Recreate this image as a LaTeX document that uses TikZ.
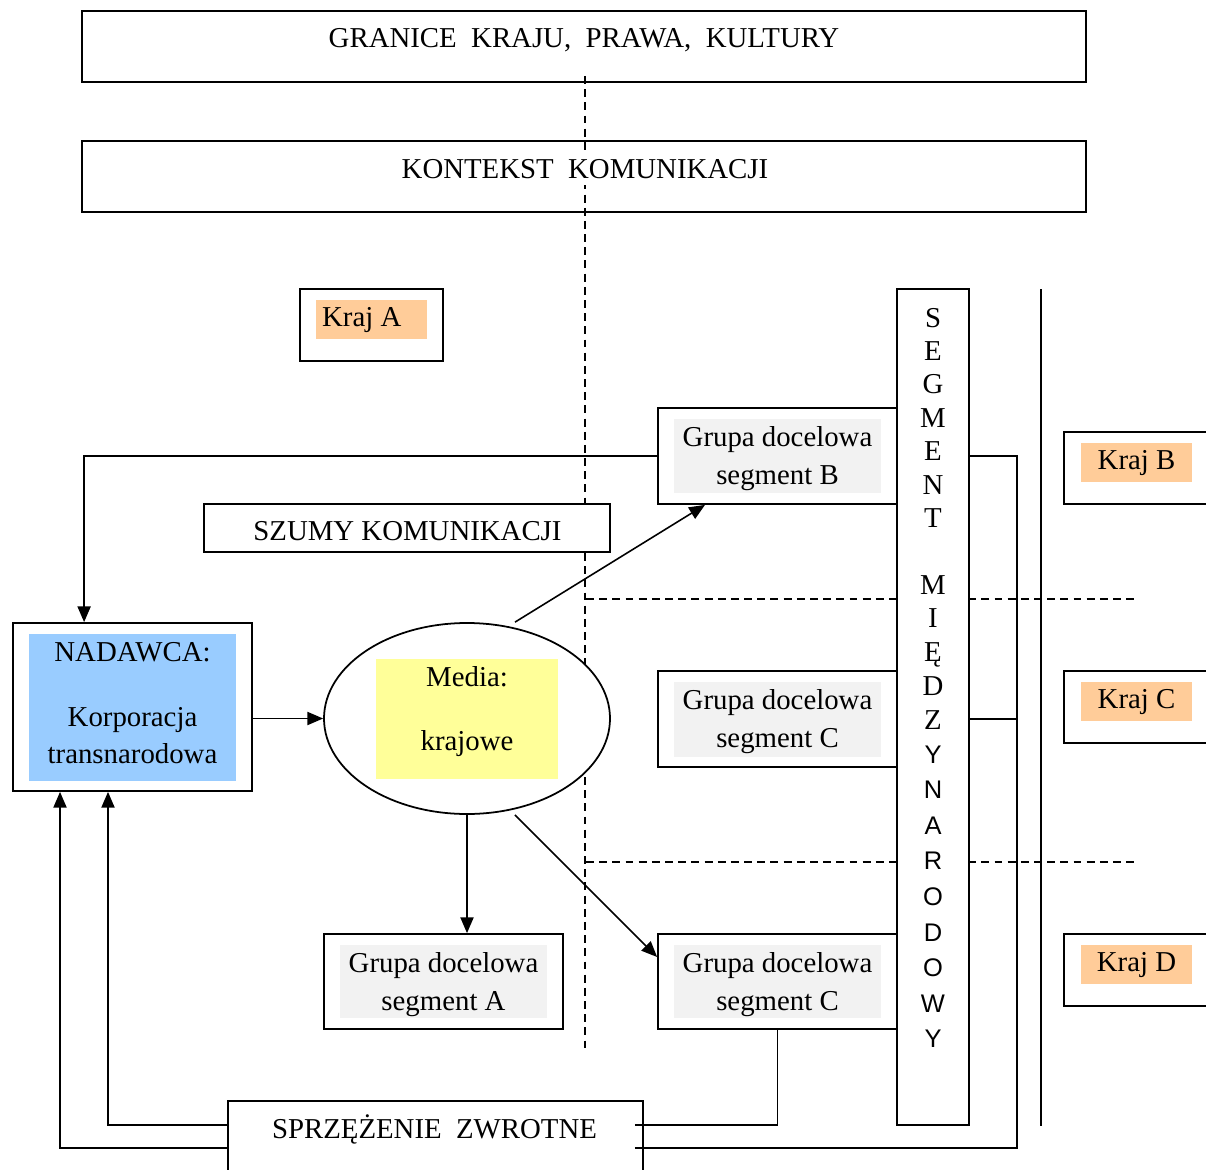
\documentclass[tikz,border=0pt]{standalone}
\usepackage{fontspec}
\setmainfont{Liberation Serif}
\newfontfamily\segsans{Liberation Sans}
\usetikzlibrary{arrows.meta, shapes.geometric, calc}
\definecolor{nadblue}{HTML}{99CCFF}
\definecolor{medyellow}{HTML}{FFFF99}
\definecolor{grpgray}{HTML}{F2F2F2}
\definecolor{krajpeach}{HTML}{FFCC99}
\tikzset{
  box/.style 2 args={draw, line width=1pt, fill=white, inner sep=0pt,
    minimum width=#1*0.02cm, minimum height=#2*0.02cm},
  bg/.style n args={3}{fill=#1, inner sep=0pt,
    minimum width=#2*0.02cm, minimum height=#3*0.02cm},
  txt/.style={font=\fontsize{16.4}{19.7}\selectfont, anchor=base, inner sep=1pt},
  segl/.style={font=\segsans\fontsize{14.5}{17}\selectfont, anchor=base, inner sep=1pt},
  ln/.style={line width=0.9pt},
  ar/.style={-{Triangle[length=9pt,width=7.5pt]}, line width=0.9pt},
  dsh/.style={line width=0.8pt, dash pattern=on 4.5pt off 3pt},
}
\begin{document}
\begin{tikzpicture}[x=0.02cm, y=-0.02cm]
  \useasboundingbox (0,0) rectangle (1206,1169);
  % dividers
  \draw[dsh] (585,76) -- (585,520);
  \draw[dsh] (585,553) -- (585,1052);
  \draw[dsh] (586,599) -- (1137,599);
  \draw[dsh] (586,862) -- (1137,862);
  \draw[ln] (1041,289) -- (1041,1126);

  % frames
  \node[box={1004}{71}, fill=none] (granice) at (584,46.5) {};
  \node[box={1004}{71}, fill=none] (kontekst) at (584,176.5) {};
  \node[box={143}{72}] (krajA) at (371.5,325) {};
  \node[box={239}{96}] (grupaB) at (777.5,456) {};
  \node[box={406}{48}] (szumy) at (407,528) {};
  \node[box={239}{168}] (nadawca) at (132.5,707) {};
  \node[ellipse, draw, line width=1pt, fill=white, inner sep=0pt,
        minimum width=286*0.02cm, minimum height=191*0.02cm] (media) at (467,718.5) {};
  \node[box={239}{96}] (grupaC) at (777.5,719) {};
  \node[box={239}{95}] (grupaA) at (443.5,981.5) {};
  \node[box={239}{95}] (grupaC2) at (777.5,981.5) {};
  \node[box={72}{836}] (segment) at (933,707) {};
  \node[box={146}{72}] (krajB) at (1137,468) {};
  \node[box={146}{72}] (krajC) at (1137,707) {};
  \node[box={146}{72}] (krajD) at (1137,970) {};
  \node[box={415}{72}] (sprz) at (435.5,1137) {};

  % text backgrounds
  \node[bg={krajpeach}{111}{39}] (krajAbg) at (371.5,319.5) {};
  \node[bg={krajpeach}{111}{39}] (krajBbg) at (1136.5,462.5) {};
  \node[bg={krajpeach}{111}{39}] (krajCbg) at (1136.5,701.5) {};
  \node[bg={krajpeach}{111}{39}] (krajDbg) at (1136.5,964.5) {};
  \node[bg={grpgray}{207}{74}] (grupaBbg) at (777.5,456) {};
  \node[bg={grpgray}{207}{75}] (grupaCbg) at (777.5,719.5) {};
  \node[bg={grpgray}{207}{73}] (grupaAbg) at (443.5,981.5) {};
  \node[bg={grpgray}{207}{73}] (grupaC2bg) at (777.5,981.5) {};
  \node[bg={nadblue}{207}{147}] (nadawcabg) at (132.5,707.5) {};
  \node[bg={medyellow}{182}{120}] (mediabg) at (467,719) {};

  % texts
  \node[txt] (granicetxt) at (584,48) {GRANICE\ \ KRAJU,\ \ PRAWA,\ \ KULTURY};
  \node[txt, fill=white, inner sep=3pt] (kontekstxt) at (585,179) {KONTEKST\ \ KOMUNIKACJI};
  \node[txt, anchor=base west] (krajAtxt) at (320,326) {Kraj A};
  \node[txt] (krajBtxt) at (1136.5,469) {Kraj B};
  \node[txt] (krajCtxt) at (1136.5,708) {Kraj C};
  \node[txt] (krajDtxt) at (1136.5,971) {Kraj D};
  \node[txt] (grupaBtxt) at (777.5,446) {Grupa docelowa};
  \node[txt] (grupaBtxtb) at (777.5,484) {segment B};
  \node[txt] (szumytxt) at (407.5,540) {SZUMY KOMUNIKACJI};
  \node[txt] (nadawcatxt) at (132.5,661) {NADAWCA:};
  \node[txt] (nadawcatxtb) at (132.5,726) {Korporacja};
  \node[txt] (nadawcatxtc) at (132.5,763) {transnarodowa};
  \node[txt] (mediatxt) at (467,686) {Media:};
  \node[txt] (mediatxtb) at (467,750) {krajowe};
  \node[txt] (grupaCtxt) at (777.5,709) {Grupa docelowa};
  \node[txt] (grupaCtxtb) at (777.5,747) {segment C};
  \node[txt] (grupaAtxt) at (443.5,972) {Grupa docelowa};
  \node[txt] (grupaAtxtb) at (443.5,1010) {segment A};
  \node[txt] (grupaC2txt) at (777.5,972) {Grupa docelowa};
  \node[txt] (grupaC2txtb) at (777.5,1010) {segment C};
  \node[txt] (sprztxt) at (434.5,1138) {SPRZĘŻENIE\ \ ZWROTNE};

  % vertical label
  \foreach \ch [count=\k from 0] in {S,E,G,M,E,N,T}
    \node[txt] (sa\k) at (933,{327+33.4*\k}) {\ch};
  \foreach \ch [count=\k from 0] in {M,I,Ę,D,Z}
    \node[txt] (sb\k) at (933,{594+33.8*\k}) {\ch};
  \foreach \ch [count=\k from 0] in {Y,N,A,R,O,D,O,W,Y}
    \node[segl] (sc\k) at (933,{763+35.6*\k}) {\ch};

  % connectors
  \draw[ar] (grupaB.west) -| ([xshift=1.44cm]nadawca.north west);
  \draw[ar] (nadawca.east |- media.west) -- (media.west);
  \draw[ar] ([xshift=0.96cm]media.north) -- ([xshift=-1.45cm]grupaB.south);
  \draw[ar] (media.south) -- (media.south |- grupaA.north);
  \draw[ar] ([xshift=0.96cm]media.south) -- ([yshift=0.49cm]grupaC2.west);
  \draw[ar] ([yshift=0.24cm]sprz.west) -| ([xshift=-0.49cm]nadawca.south);
  \draw[ar] ([yshift=-0.22cm]sprz.west) -| ([xshift=-1.45cm]nadawca.south);
  \draw[ln] ([xshift=-0.18cm,yshift=0.24cm]sprz.east) -| (grupaC2.south);
  \coordinate (railtop) at (1017,456);
  \coordinate (railmid) at (1017,719);
  \draw[ln] ([xshift=-0.18cm,yshift=-0.22cm]sprz.east) -| (railtop) -- (segment.east |- railtop);
  \draw[ln] (railmid) -- (segment.east |- railmid);
\end{tikzpicture}
\end{document}
